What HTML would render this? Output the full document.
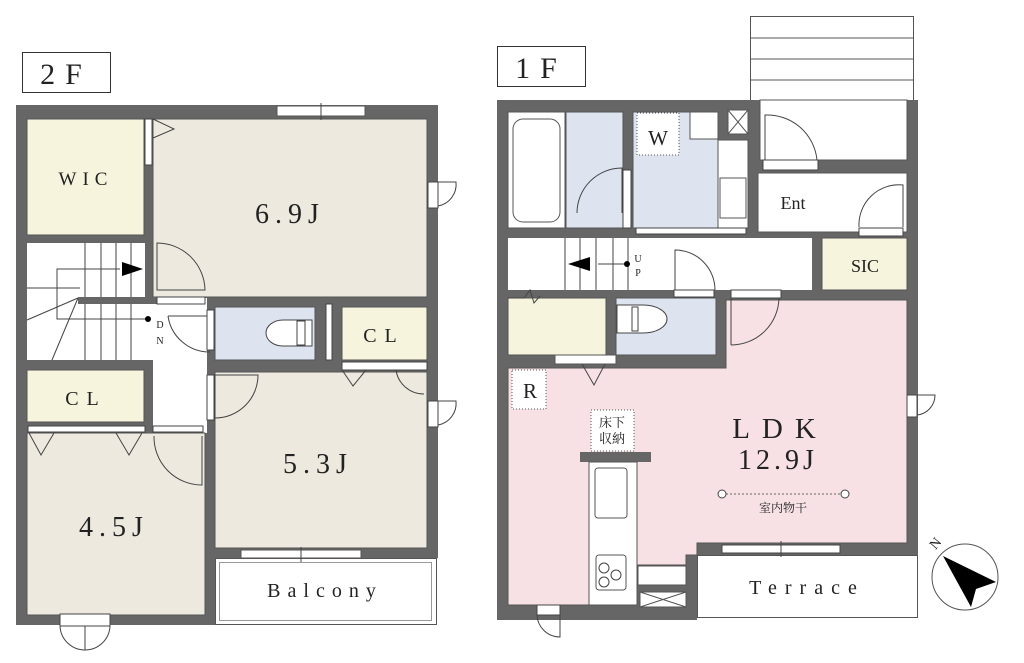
<!DOCTYPE html>
<html><head><meta charset="utf-8"><style>
body{margin:0;background:#fff}
svg{display:block}
text{font-family:"Liberation Serif","Noto Serif CJK SC",serif;fill:#222}
</style></head><body>
<svg width="1024" height="663" viewBox="0 0 1024 663" xmlns="http://www.w3.org/2000/svg">
<g stroke="#333" stroke-width="1" fill="none">
<rect x="22.5" y="52.5" width="88" height="40" fill="#fff"/>
<rect x="497.5" y="46.5" width="88" height="40" fill="#fff"/>
</g>
<text x="66" y="84" font-size="30" text-anchor="middle" letter-spacing="10">2F</text>
<text x="541" y="78" font-size="30" text-anchor="middle" letter-spacing="10">1F</text>

<!-- ========== 2F ========== -->
<rect x="16" y="105" width="422" height="453" fill="#666"/>
<rect x="16" y="550" width="200" height="75" fill="#666"/>
<rect x="215.5" y="558.5" width="221" height="66" fill="#fff" stroke="#555"/>
<rect x="219.5" y="562.5" width="212" height="58" fill="#fff" stroke="#999"/>
<text x="325" y="597" font-size="20" text-anchor="middle" letter-spacing="7">Balcony</text>
<rect x="27" y="119" width="117" height="116" fill="#f6f4dc" stroke="#555"/>
<rect x="153" y="119" width="274" height="178" fill="#ede9df" stroke="#555"/>
<rect x="27" y="243" width="118" height="117" fill="#fff"/>
<rect x="27" y="298" width="180" height="62" fill="#fff"/>
<rect x="153" y="298" width="54" height="135" fill="#fff"/>
<rect x="215" y="307" width="100" height="53" fill="#dde4f0" stroke="#555"/>
<rect x="342" y="307" width="85" height="53" fill="#f6f4dc" stroke="#555"/>
<rect x="27" y="370" width="117" height="52" fill="#f6f4dc" stroke="#555"/>
<rect x="27" y="433" width="178" height="182" fill="#ede9df" stroke="#555"/>
<rect x="215" y="372" width="212" height="176" fill="#ede9df" stroke="#555"/>
<g stroke="#444" fill="none" stroke-width="1">
<line x1="85" y1="243" x2="85" y2="298"/><line x1="101" y1="243" x2="101" y2="298"/><line x1="116" y1="243" x2="116" y2="298"/><line x1="131" y1="243" x2="131" y2="298"/>
<line x1="85" y1="303" x2="85" y2="360"/><line x1="101" y1="303" x2="101" y2="360"/><line x1="116" y1="303" x2="116" y2="360"/><line x1="131" y1="303" x2="131" y2="360"/>
<polyline points="120,269 57,269 57,319 148,319"/>
<line x1="78" y1="298" x2="27" y2="320"/><line x1="78" y1="298" x2="52" y2="360"/>
<line x1="27" y1="288" x2="80" y2="288"/>
</g>
<rect x="78" y="297" width="80" height="7" fill="#666"/>
<polygon points="122,262 143,269 122,276" fill="#000"/>
<circle cx="148" cy="319" r="3" fill="#000"/>
<text x="160" y="328" font-size="10" text-anchor="middle">D</text>
<text x="160" y="344" font-size="10" text-anchor="middle">N</text>
<rect x="277" y="106" width="88" height="10" fill="#fff" stroke="#555"/>
<line x1="321" y1="103" x2="321" y2="120" stroke="#444"/>
<rect x="241" y="550" width="120" height="8" fill="#fff" stroke="#555"/>
<line x1="301" y1="547" x2="301" y2="562" stroke="#444"/>
<g stroke="#444" fill="#fff" stroke-width="1">
<rect x="145" y="119" width="7" height="46"/>
<polyline points="153,119 174,129 153,138" fill="none"/>
<path d="M157,243 A48,48 0 0 1 205,290 L157,290 Z" fill="none"/>
<rect x="157" y="297" width="48" height="7"/>
<path d="M168,316 A42,42 0 0 0 210,352" fill="none"/>
<line x1="168" y1="316" x2="210" y2="316"/>
<rect x="207" y="310" width="7" height="40"/>
<rect x="326" y="304" width="6" height="56"/>
<path d="M215,375 L258,375 A43,43 0 0 1 215,418 Z" fill="none"/>
<rect x="207" y="375" width="7" height="45"/>
<rect x="342" y="362" width="85" height="8"/>
<polyline points="342,370 353,386 366,370" fill="none"/>
<path d="M424,394 A28,28 0 0 1 396,370" fill="none"/>
<rect x="28" y="426" width="117" height="6"/>
<rect x="153" y="426" width="50" height="6"/>
<polyline points="29,433 41,455 54,433" fill="none"/>
<polyline points="116,433 129,455 142,433" fill="none"/>
<path d="M154,436 A48,48 0 0 0 202,485 L202,436" fill="none"/>
<rect x="428" y="182" width="10" height="26"/>
<path d="M438,182 L456,182 A22,22 0 0 1 438,206" fill="none"/>
<rect x="428" y="401" width="10" height="26"/>
<path d="M438,401 L456,401 A22,22 0 0 1 438,425" fill="none"/>
<rect x="60" y="614" width="50" height="12"/>
<path d="M60,626 A25,25 0 0 0 85,650 L85,626 M110,626 A25,25 0 0 1 85,650" fill="none"/>
</g>
<text x="86" y="185" font-size="19" text-anchor="middle" letter-spacing="6">WIC</text>
<text x="290" y="223" font-size="28" text-anchor="middle" letter-spacing="6">6.9J</text>
<text x="384" y="342" font-size="20" text-anchor="middle" letter-spacing="8">CL</text>
<text x="86" y="405" font-size="20" text-anchor="middle" letter-spacing="8">CL</text>
<text x="318" y="473" font-size="28" text-anchor="middle" letter-spacing="6">5.3J</text>
<text x="114" y="536" font-size="28" text-anchor="middle" letter-spacing="6">4.5J</text>
<path d="M312,320 L283,320 A17,13 0 0 0 283,346 L312,346 Z" fill="#fff" stroke="#444"/>
<rect x="297" y="321" width="8" height="24" fill="none" stroke="#444"/>

<!-- ========== 1F ========== -->
<rect x="750.5" y="16.5" width="163" height="84" fill="#fff" stroke="#555"/>
<g stroke="#555"><line x1="750" y1="38" x2="913" y2="38"/><line x1="750" y1="59" x2="913" y2="59"/><line x1="750" y1="80" x2="913" y2="80"/></g>
<rect x="497" y="100" width="421" height="455" fill="#666"/>
<rect x="497" y="540" width="200" height="80" fill="#666"/>
<rect x="760" y="100" width="147" height="60" fill="#fff" stroke="#555"/>
<rect x="697.5" y="555.5" width="220" height="62" fill="#fff" stroke="#555"/>
<text x="807" y="594" font-size="20" text-anchor="middle" letter-spacing="8">Terrace</text>
<rect x="508" y="112" width="57" height="116" fill="#fff" stroke="#555"/>
<rect x="513" y="119" width="47" height="103" rx="10" fill="#fff" stroke="#555"/>
<rect x="566" y="112" width="57" height="116" fill="#dde4f0" stroke="#555"/>
<rect x="633" y="112" width="85" height="116" fill="#dde4f0" stroke="#555"/>
<rect x="690" y="112" width="28" height="27" fill="#fff" stroke="#555"/>
<rect x="718" y="140" width="30" height="88" fill="#fff" stroke="#555"/>
<rect x="720" y="178" width="26" height="40" fill="#fff" stroke="#555"/>
<rect x="728" y="110" width="20" height="24" fill="#fff" stroke="#555"/>
<path d="M728,110 L748,134 M748,110 L728,134" stroke="#555"/>
<rect x="758" y="173" width="149" height="59" fill="#fff" stroke="#555"/>
<rect x="508" y="238" width="304" height="52" fill="#fff"/>
<rect x="822" y="238" width="85" height="52" fill="#f6f4dc" stroke="#555"/>
<g stroke="#444"><line x1="565" y1="238" x2="565" y2="290"/><line x1="580" y1="238" x2="580" y2="290"/><line x1="596" y1="238" x2="596" y2="290"/><line x1="613" y1="238" x2="613" y2="290"/><line x1="628" y1="238" x2="628" y2="290"/><line x1="598" y1="264" x2="626" y2="264"/></g>
<polygon points="568,264 590,257 590,271" fill="#000"/>
<circle cx="627" cy="264" r="3" fill="#000"/>
<text x="638" y="262" font-size="10" text-anchor="middle">U</text>
<text x="638" y="276" font-size="10" text-anchor="middle">P</text>
<rect x="508" y="298" width="98" height="57" fill="#f6f4dc" stroke="#555"/>
<polyline points="508,298 524,298 530,290 534,303 540,296" fill="none" stroke="#444"/>
<rect x="616" y="298" width="100" height="57" fill="#dde4f0" stroke="#555"/>
<path d="M617,305 L643,305 A24,14 0 0 1 643,333 L617,333 Z" fill="#fff" stroke="#444"/>
<rect x="632" y="307" width="6" height="24" fill="none" stroke="#444"/>
<polygon points="726,300 907,300 907,543 697,543 697,555 686,555 686,565 637,565 637,605 508,605 508,368 726,368" fill="#f7e1e4" stroke="#555"/>
<rect x="555" y="355" width="61" height="9" fill="#fff" stroke="#555"/>
<polyline points="582,364 594,385 605,364" fill="none" stroke="#444"/>
<rect x="580" y="452" width="71" height="10" fill="#666"/>
<rect x="589" y="462" width="48" height="143" fill="#fff" stroke="#555"/>
<rect x="595" y="468" width="32" height="50" rx="3" fill="#fff" stroke="#555"/>
<rect x="596" y="555" width="30" height="35" rx="3" fill="#fff" stroke="#555"/>
<circle cx="604" cy="568" r="5" fill="#fff" stroke="#444"/><circle cx="616" cy="575" r="5" fill="#fff" stroke="#444"/><circle cx="604" cy="582" r="5" fill="#fff" stroke="#444"/>
<rect x="638" y="566" width="48" height="19" fill="#fff" stroke="#555"/>
<rect x="640" y="592" width="46" height="15" fill="#fff" stroke="#555"/>
<path d="M640,592 L686,607 M686,592 L640,607" stroke="#555"/>
<g stroke="#444" fill="none">
<path d="M577,213 A45,45 0 0 1 622,168 L622,213"/>
<rect x="623" y="170" width="8" height="58" fill="#fff"/>
<rect x="636" y="228" width="110" height="6" fill="#fff"/>
<path d="M765,115 A50,50 0 0 1 817,160 L765,160 Z"/>
<rect x="763" y="160" width="55" height="10" fill="#fff"/>
<path d="M859,227 A40,40 0 0 1 903,185 L903,227"/>
<rect x="859" y="228" width="44" height="8" fill="#fff"/>
<path d="M675,290 L675,250 A40,40 0 0 1 715,290"/>
<rect x="674" y="290" width="40" height="7" fill="#fff"/>
<path d="M731,345 L731,298 L779,298 A48,48 0 0 1 731,345"/>
<rect x="731" y="290" width="50" height="8" fill="#fff"/>
<rect x="907" y="395" width="10" height="22" fill="#fff"/>
<path d="M917,395 L935,395 A20,20 0 0 1 917,415"/>
<rect x="537" y="605" width="23" height="10" fill="#fff"/>
<path d="M537,615 A23,23 0 0 0 560,637 L560,615"/>
<rect x="722" y="545" width="118" height="8" fill="#fff"/>
<line x1="781" y1="541" x2="781" y2="557"/>
</g>
<rect x="512" y="370" width="34" height="39" fill="#fff" stroke="#555" stroke-dasharray="1,2"/>
<text x="530" y="398" font-size="21" text-anchor="middle">R</text>
<rect x="637" y="113" width="42" height="42" fill="#fff" stroke="#555" stroke-dasharray="1,2"/>
<text x="658" y="145" font-size="21" text-anchor="middle">W</text>
<text x="793" y="209" font-size="18" text-anchor="middle">Ent</text>
<text x="865" y="272" font-size="18" text-anchor="middle">SIC</text>
<rect x="591" y="410" width="43" height="41" fill="#fff" stroke="#555" stroke-dasharray="1,2"/>
<text x="612" y="427" font-size="13" text-anchor="middle">床下</text>
<text x="612" y="443" font-size="13" text-anchor="middle">収納</text>
<text x="780" y="438" font-size="29" text-anchor="middle" letter-spacing="12">LDK</text>
<text x="778" y="469" font-size="28" text-anchor="middle" letter-spacing="4">12.9J</text>
<line x1="722" y1="494" x2="843" y2="494" stroke="#666" stroke-dasharray="2,2"/>
<circle cx="722" cy="494" r="4" fill="#fff" stroke="#444"/>
<circle cx="845" cy="494" r="4" fill="#fff" stroke="#444"/>
<text x="783" y="512" font-size="12" text-anchor="middle">室内物干</text>
<circle cx="965" cy="577" r="33" fill="#fff" stroke="#555"/>
<polygon points="943,556 996,582 976,589 971,607" fill="#000"/>
<text x="935" y="548" font-size="14" text-anchor="middle" transform="rotate(-50 935 543)">N</text>
</svg>
</body></html>
